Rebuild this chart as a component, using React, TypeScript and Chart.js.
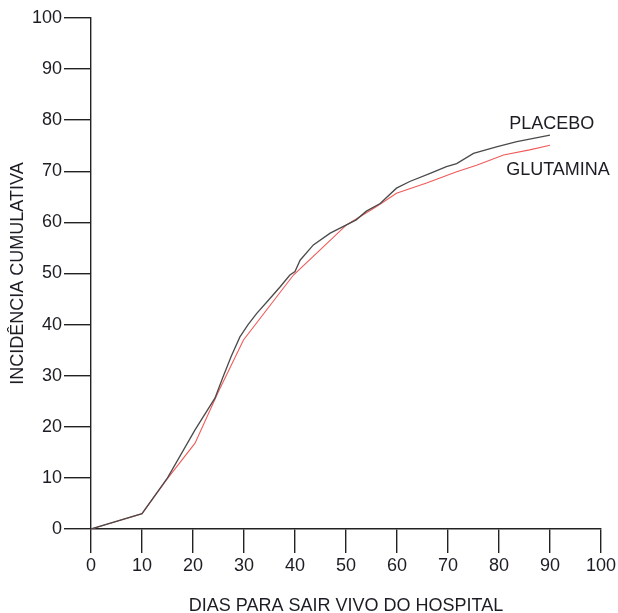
import React, { useEffect, useRef } from "react";
import { Chart, registerables } from "chart.js";

Chart.register(...registerables);

const placeboDays = [0, 10, 15, 20.4, 24.3, 25.9, 27.5, 29.2, 30.8, 32.5, 35, 37.1, 39, 40, 41, 43.6, 46.9, 50.1, 52, 54, 56.7, 59.9, 62.5, 66.5, 69.7, 71.7, 75, 79.5, 83.5, 90];
const placeboValues = [0, 3, 10, 19.4, 25.6, 29.8, 33.8, 37.6, 40, 42.2, 45, 47.4, 49.7, 50.4, 52.6, 55.6, 57.9, 59.5, 60.5, 62.2, 63.7, 66.7, 68, 69.6, 70.9, 71.5, 73.5, 74.8, 75.8, 77.1];

const glutaminaDays = [0, 10, 14.8, 20.4, 25, 29.9, 39.7, 50.1, 56, 59.9, 65.8, 71.7, 75.6, 80.9, 86, 90];
const glutaminaValues = [0, 3, 9.6, 16.8, 26.9, 37, 49.7, 59.5, 63.1, 65.7, 67.7, 69.9, 71.2, 73.2, 74.2, 75.1];

const seriesNames = ["PLACEBO", "GLUTAMINA"];
const labelDays = [82, 81.4];
const labelValues = [79.2, 70.3];

const xTitle = "DIAS PARA SAIR VIVO DO HOSPITAL";
const yTitle = "INCIDÊNCIA CUMULATIVA";

const FONT = "'Liberation Sans', Arial, sans-serif";
const INK = "#1c1c24";

const textLayer = {
  id: "textLayer",
  afterDraw(chart: any) {
    const { ctx, scales, chartArea } = chart;
    ctx.save();
    ctx.font = `18px ${FONT}`;
    ctx.fillStyle = INK;
    ctx.textBaseline = "middle";
    ctx.textAlign = "left";
    seriesNames.forEach((name, i) => {
      ctx.fillText(name, scales.x.getPixelForValue(labelDays[i]), scales.y.getPixelForValue(labelValues[i]));
    });
    ctx.textAlign = "center";
    ctx.fillText(xTitle, (chartArea.left + chartArea.right) / 2, chart.height - 7);
    ctx.translate(18.5, (chartArea.top + chartArea.bottom) / 2);
    ctx.rotate(-Math.PI / 2);
    ctx.fillText(yTitle, 0, 0);
    ctx.restore();
  },
};

export default function App() {
  const ref = useRef<HTMLCanvasElement | null>(null);
  useEffect(() => {
    if (!ref.current) return;
    const chart = new Chart(ref.current, {
      type: "line",
      data: {
        datasets: [
          {
            label: seriesNames[0],
            data: placeboDays.map((d, i) => ({ x: d, y: placeboValues[i] })),
            borderColor: "#4a4a4a",
            borderWidth: 1.3,
            pointRadius: 0,
            tension: 0,
          },
          {
            label: seriesNames[1],
            data: glutaminaDays.map((d, i) => ({ x: d, y: glutaminaValues[i] })),
            borderColor: "#f05a5a",
            borderWidth: 1.1,
            pointRadius: 0,
            tension: 0,
          },
        ],
      },
      options: {
        animation: false,
        responsive: false,
        maintainAspectRatio: false,
        layout: { padding: { left: 0, right: 17, top: 18, bottom: 0 } },
        plugins: { legend: { display: false }, tooltip: { enabled: false } },
        scales: {
          x: {
            type: "linear",
            min: 0,
            max: 100,
            afterFit: (s: any) => { s.height = 84; },
            ticks: { stepSize: 10, color: INK, font: { family: FONT, size: 18 }, padding: 2, maxRotation: 0 },
            grid: { drawOnChartArea: false, drawTicks: true, tickLength: 24, color: "#222", lineWidth: 1.4 },
            border: { display: true, color: "#222", width: 1.4 },
          },
          y: {
            type: "linear",
            min: 0,
            max: 100,
            afterFit: (s: any) => { s.width = 91; },
            ticks: { stepSize: 10, color: INK, font: { family: FONT, size: 18 }, padding: 2 },
            grid: { drawOnChartArea: false, drawTicks: true, tickLength: 27, color: "#222", lineWidth: 1.4 },
            border: { display: true, color: "#222", width: 1.4 },
          },
        },
      },
      plugins: [textLayer],
    });
    return () => chart.destroy();
  }, []);
  return (
    <div style={{ position: "fixed", left: 0, top: 0, width: 618, height: 613, background: "#fff" }}>
      <canvas ref={ref} width={618} height={613} style={{ width: 618, height: 613 }} />
    </div>
  );
}
